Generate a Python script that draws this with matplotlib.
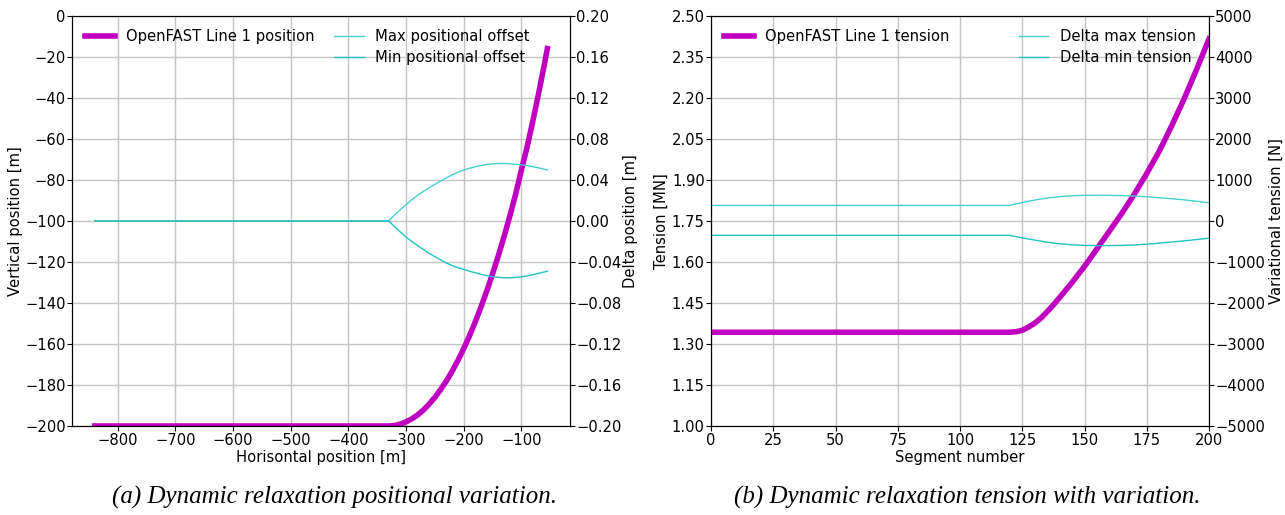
import numpy as np
import matplotlib
matplotlib.use("Agg")
import matplotlib.pyplot as plt

# ---------------- data: (a) positional variation ----------------
horiz_pos = [-840, -330, -320, -310, -300, -290, -280, -270, -260, -250, -240, -230,
             -220, -210, -200, -190, -180, -170, -160, -150, -140, -130, -120, -110,
             -100, -90, -80, -70, -60, -55]
vert_pos = [-200.0, -200.0, -199.8, -199.1, -198.0, -196.5, -194.6, -192.2, -189.3,
            -186.0, -182.2, -178.0, -173.2, -168.0, -162.2, -156.0, -149.2, -141.9,
            -134.1, -125.8, -116.9, -107.5, -97.5, -86.9, -75.1, -63.7, -51.0, -37.5,
            -23.3, -15.9]
max_offset = [0.0, 0.0, 0.0058, 0.0110, 0.0160, 0.0208, 0.0250, 0.0288, 0.0325, 0.0358,
              0.0390, 0.0422, 0.0450, 0.0475, 0.0497, 0.0515, 0.0530, 0.0542, 0.0552,
              0.0558, 0.0561, 0.0561, 0.0558, 0.0554, 0.0548, 0.0540, 0.0530, 0.0518,
              0.0504, 0.0497]
min_offset = [0.0, 0.0, -0.0055, -0.0107, -0.0157, -0.0200, -0.0240, -0.0277, -0.0315,
              -0.0348, -0.0380, -0.0410, -0.0435, -0.0455, -0.0472, -0.0490, -0.0505,
              -0.0520, -0.0533, -0.0543, -0.0550, -0.0554, -0.0554, -0.0550, -0.0544,
              -0.0535, -0.0524, -0.0510, -0.0497, -0.0490]

# ---------------- data: (b) tension with variation ----------------
segment = [0, 120, 122.5, 125, 127.5, 130, 132.5, 135, 137.5, 140, 145, 150, 155, 160,
           165, 170, 175, 180, 185, 190, 195, 200]
tension_MN = [1.343, 1.343, 1.345, 1.350, 1.362, 1.376, 1.395, 1.418, 1.443, 1.470,
              1.525, 1.584, 1.648, 1.713, 1.778, 1.848, 1.924, 2.005, 2.098, 2.197,
              2.304, 2.416]
delta_max_N = [380, 380, 418, 450, 482, 510, 537, 560, 580, 595, 615, 625, 628, 626,
               620, 608, 590, 568, 543, 515, 482, 445]
delta_min_N = [-350, -350, -382, -410, -438, -465, -492, -515, -537, -555, -580, -595,
               -600, -600, -595, -585, -565, -540, -512, -485, -452, -420]

pos_yticks = [-200, -180, -160, -140, -120, -100, -80, -60, -40, -20, 0]
delta_pos_ticks = [-0.20, -0.16, -0.12, -0.08, -0.04, 0.00, 0.04, 0.08, 0.12, 0.16, 0.20]
pos_xticks = [-800, -700, -600, -500, -400, -300, -200, -100]
tension_ticks = [1.00, 1.15, 1.30, 1.45, 1.60, 1.75, 1.90, 2.05, 2.20, 2.35, 2.50]
var_ticks = [-5000, -4000, -3000, -2000, -1000, 0, 1000, 2000, 3000, 4000, 5000]
seg_ticks = [0, 25, 50, 75, 100, 125, 150, 175, 200]

MAG = "#c000c0"
CYAN_MAX = "#45d0d0"
CYAN_MIN = "#20c2c2"
FS = 10.6

plt.rcParams['font.family'] = ['DejaVu Sans']
plt.rcParams['xtick.major.pad'] = 1.2
plt.rcParams['ytick.major.pad'] = 1.0
plt.rcParams['legend.labelspacing'] = 0.4
fig = plt.figure(figsize=(12.85, 5.15), dpi=100)

W, H = 1285, 515
def rect(x0, y0, x1, y1):
    return [x0 / W, 1 - y1 / H, (x1 - x0) / W, (y1 - y0) / H]

# ----- left chart -----
ax1 = fig.add_axes(rect(72, 16, 570, 426))
ax1.plot(horiz_pos, vert_pos, color=MAG, lw=4, label="OpenFAST Line 1 position")
ax1.set_ylim(-200, 0)
ax1.set_yticks(pos_yticks)
ax1.set_xticks(pos_xticks)
ax1.grid(True, color="#c4c4c4", lw=1.0)
ax1.set_axisbelow(True)
ax1.set_xlabel("Horisontal position [m]", fontsize=FS, labelpad=1.5)
ax1.set_ylabel("Vertical position [m]", fontsize=FS)
ax1.tick_params(labelsize=FS)
ax1.legend(loc="upper left", frameon=False, fontsize=FS)

ax1b = ax1.twinx()
ax1b.plot(horiz_pos, max_offset, color=CYAN_MAX, lw=1, label="Max positional offset")
ax1b.plot(horiz_pos, min_offset, color=CYAN_MIN, lw=1, label="Min positional offset")
ax1b.set_ylim(-0.2, 0.2)
ax1b.set_yticks(delta_pos_ticks)
ax1b.set_yticklabels([f"{v:.2f}".replace("-", "\u2212") for v in delta_pos_ticks])
ax1b.set_ylabel("Delta position [m]", fontsize=FS)
ax1b.tick_params(labelsize=FS)
ax1b.legend(loc="upper right", bbox_to_anchor=(0.946, 1.0), frameon=False, fontsize=FS)

# ----- right chart -----
ax2 = fig.add_axes(rect(711, 16, 1209, 426))
ax2.plot(segment, tension_MN, color=MAG, lw=4, label="OpenFAST Line 1 tension")
ax2.set_xlim(0, 200)
ax2.set_ylim(1.0, 2.5)
ax2.set_yticks(tension_ticks)
ax2.set_yticklabels([f"{v:.2f}" for v in tension_ticks])
ax2.set_xticks(seg_ticks)
ax2.grid(True, color="#c4c4c4", lw=1.0)
ax2.set_axisbelow(True)
ax2.set_xlabel("Segment number", fontsize=FS, labelpad=1.5)
ax2.set_ylabel("Tension [MN]", fontsize=FS)
ax2.tick_params(labelsize=FS)
ax2.legend(loc="upper left", frameon=False, fontsize=FS)

ax2b = ax2.twinx()
ax2b.plot(segment, delta_max_N, color=CYAN_MAX, lw=1, label="Delta max tension")
ax2b.plot(segment, delta_min_N, color=CYAN_MIN, lw=1, label="Delta min tension")
ax2b.set_ylim(-5000, 5000)
ax2b.set_yticks(var_ticks)
ax2b.set_ylabel("Variational tension [N]", fontsize=FS)
ax2b.tick_params(labelsize=FS)
ax2b.legend(loc="upper right", frameon=False, fontsize=FS)

# explicit y-label centres (pixels) to match the reference
def place_ylabel(ax, x_center_px, ax_left_px, ax_width_px):
    lab = ax.yaxis.label
    ax.yaxis.set_label_coords((x_center_px - ax_left_px) / ax_width_px, 0.5)
    lab.set_horizontalalignment("center")
    lab.set_verticalalignment("center")
    lab.set_rotation_mode("anchor")

place_ylabel(ax1, 16, 72, 498)
place_ylabel(ax1b, 631, 72, 498)
place_ylabel(ax2, 661, 711, 498)
place_ylabel(ax2b, 1276, 711, 498)

# ----- captions -----
cap_font = dict(family="Liberation Serif", style="italic", fontsize=18,
                ha="center", va="center")
fig.text(335 / W, 1 - 497 / H, "(a) Dynamic relaxation positional variation.", **cap_font)
fig.text(967 / W, 1 - 497 / H, "(b) Dynamic relaxation tension with variation.", **cap_font)

fig.savefig("out.png", dpi=100)
